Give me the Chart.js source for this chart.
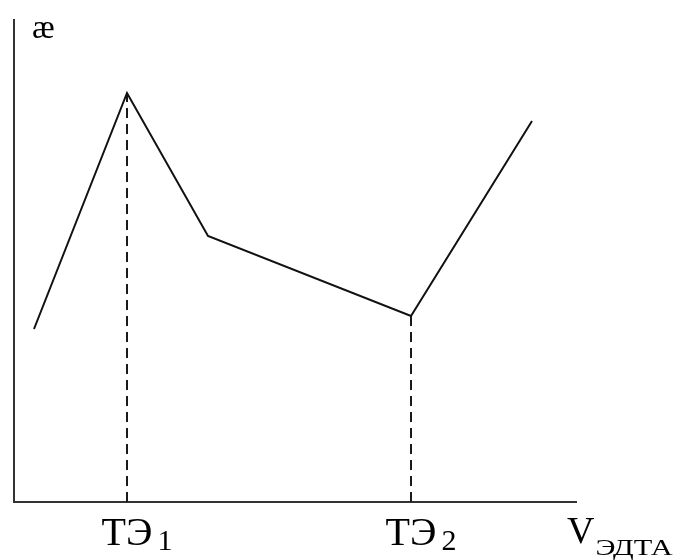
<!DOCTYPE html>
<html>
<head>
<meta charset="utf-8">
<script src="https://cdn.jsdelivr.net/npm/chart.js@4"></script>
<style>
    html, body { margin: 0; padding: 0; background: #fff; }
    #wrap { width: 682px; height: 560px; }
</style>
</head>
<body>
<div id="wrap"><canvas id="chart" width="682" height="560"></canvas></div>
<script>
// Conductometric titration curve
const volumes = [20, 113, 194, 397, 518];
const conductivity = [173, 409, 266, 186, 381];

// equivalence points: index into the arrays above
const eqIndex = [1, 3];
const eqLabels = ['ТЭ', 'ТЭ'];
const eqSubs = ['1', '2'];

const yTitle = 'æ';
const xTitle = 'V';
const xTitleSub = 'ЭДТА';

const xMax = 562;
const yMax = 482;

const curve = volumes.map((v, i) => ({ x: v, y: conductivity[i] }));
const dropLines = eqIndex.map(i => ({
    label: 'drop',
    data: [{ x: volumes[i], y: 0 }, { x: volumes[i], y: conductivity[i] }],
    borderColor: '#1a1a1a',
    borderWidth: 2,
    borderDash: [10, 6],
    pointRadius: 0,
    fill: false,
}));

// draws the text labels with subscripts next to the axes
const labelsPlugin = {
    id: 'labels',
    afterDraw(chart) {
        const ctx = chart.ctx;
        const xs = chart.scales.x;
        const area = chart.chartArea;
        ctx.save();
        ctx.fillStyle = '#000';
        ctx.textBaseline = 'alphabetic';
        ctx.textAlign = 'left';

        eqIndex.forEach((idx, k) => {
            const px = xs.getPixelForValue(volumes[idx]);
            ctx.font = '40px "Liberation Serif"';
            const w = ctx.measureText(eqLabels[k]).width;
            ctx.fillText(eqLabels[k], px - w / 2, area.bottom + 43);
            ctx.font = '30px "Liberation Serif"';
            ctx.fillText(eqSubs[k], px + w / 2 + 5, area.bottom + 48);
        });

        ctx.font = '38px "Liberation Serif"';
        ctx.fillText(xTitle, area.right - 9, area.bottom + 41);
        const vw = ctx.measureText(xTitle).width;
        ctx.font = '23px "Liberation Serif"';
        ctx.save();
        ctx.translate(area.right - 9 + vw + 1, area.bottom + 53);
        ctx.scale(1.32, 1);
        ctx.fillText(xTitleSub, 0, 0);
        ctx.restore();

        ctx.font = '34px "Liberation Serif"';
        ctx.fillText(yTitle, area.left + 18, area.top + 18);
        ctx.restore();
    }
};

new Chart(document.getElementById('chart'), {
    type: 'line',
    data: {
        datasets: [{
            label: 'curve',
            data: curve,
            borderColor: '#111',
            borderWidth: 2,
            pointRadius: 0,
            tension: 0,
            fill: false,
        }, ...dropLines]
    },
    options: {
        responsive: false,
        animation: false,
        events: [],
        layout: { padding: { left: 6, top: 20, right: 106, bottom: 50 } },
        plugins: { legend: { display: false }, tooltip: { enabled: false } },
        scales: {
            x: {
                type: 'linear',
                min: 0,
                max: xMax,
                grid: { display: false },
                ticks: { display: false },
                border: { display: true, color: '#333', width: 2 },
            },
            y: {
                type: 'linear',
                min: 0,
                max: yMax,
                grid: { display: false },
                ticks: { display: false },
                border: { display: true, color: '#333', width: 2 },
            }
        }
    },
    plugins: [labelsPlugin]
});
</script>
</body>
</html>
